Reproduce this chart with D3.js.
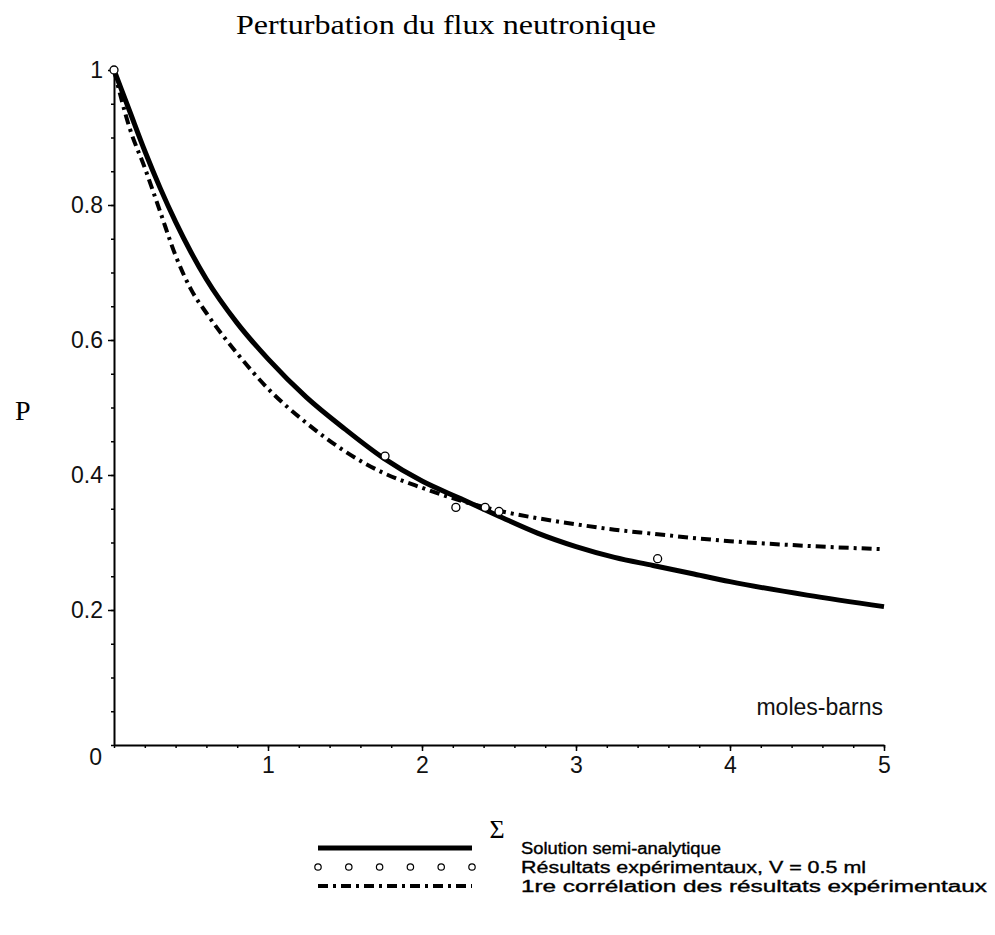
<!DOCTYPE html>
<html>
<head>
    <title>Perturbation du flux neutronique</title>
    <script src="https://d3js.org/d3.v7.min.js"></script>
    <style>
        body { margin: 0; background: #fff; }
    </style>
</head>
<body>
    <div id="container"></div>
    <script>
        const width = 995;
        const height = 935;

        // values
        const sigma = [0, 0.1, 0.2, 0.3, 0.4, 0.5, 0.6, 0.8, 1.0, 1.25, 1.5, 1.75, 2.0, 2.25, 2.5, 2.75, 3.0, 3.25, 3.5, 3.75, 4.0, 4.5, 5.0];
        const pSolution = [1.0, 0.94, 0.88, 0.825, 0.775, 0.73, 0.69, 0.625, 0.572, 0.515, 0.468, 0.425, 0.391, 0.365, 0.339, 0.314, 0.294, 0.278, 0.266, 0.254, 0.242, 0.222, 0.205];
        const pCorrelation = [1.0, 0.915, 0.855, 0.79, 0.725, 0.675, 0.64, 0.58, 0.528, 0.477, 0.435, 0.403, 0.381, 0.362, 0.347, 0.336, 0.327, 0.319, 0.313, 0.307, 0.302, 0.295, 0.29];
        const expSigma = [0, 1.76, 2.22, 2.41, 2.5, 3.53];
        const expP = [1.0, 0.428, 0.352, 0.352, 0.346, 0.276];

        const xTicks = [1, 2, 3, 4, 5];
        const yTicks = [0, 0.2, 0.4, 0.6, 0.8, 1];
        const legendLabels = ["Solution semi-analytique", "Résultats expérimentaux, V = 0.5 ml", "1re corrélation des résultats expérimentaux"];

        const x = d3.scaleLinear().domain([0, 5]).range([114, 884]);
        const y = d3.scaleLinear().domain([0, 1]).range([745, 70]);

        const svg = d3.select("#container").append("svg")
            .attr("width", width)
            .attr("height", height)
            .style("font-family", "'Liberation Sans', Arial, sans-serif");

        // title and axis names
        svg.append("text")
            .attr("x", 236).attr("y", 34)
            .attr("textLength", 420).attr("lengthAdjust", "spacingAndGlyphs")
            .style("font-family", "'Liberation Serif', serif")
            .style("font-size", "27px")
            .text("Perturbation du flux neutronique");

        svg.append("text")
            .attr("x", 15).attr("y", 420)
            .style("font-family", "'Liberation Serif', serif")
            .style("font-size", "28px")
            .text("P");

        svg.append("text")
            .attr("x", 497).attr("y", 838)
            .attr("text-anchor", "middle")
            .style("font-family", "'Liberation Serif', serif")
            .style("font-size", "26px")
            .text("Σ");

        svg.append("text")
            .attr("x", 883).attr("y", 715)
            .attr("text-anchor", "end")
            .style("font-size", "23px")
            .attr("fill", "#111")
            .text("moles-barns");

        // minor ticks
        svg.append("g")
            .attr("transform", `translate(0,${y(0)})`)
            .call(d3.axisBottom(x).tickValues(d3.range(0, 5.01, 0.2)).tickSize(3).tickFormat(""))
            .call(g => g.select(".domain").remove());
        svg.append("g")
            .attr("transform", `translate(${x(0)},0)`)
            .call(d3.axisLeft(y).tickValues(d3.range(0, 1.01, 0.05)).tickSize(3).tickFormat(""))
            .call(g => g.select(".domain").remove());

        svg.append("g")
            .attr("transform", `translate(0,${y(0)})`)
            .call(d3.axisBottom(x).tickValues(xTicks).tickSize(6).tickSizeOuter(0).tickPadding(6).tickFormat(d => d));

        const yAxis = svg.append("g")
            .attr("transform", `translate(${x(0)},0)`)
            .call(d3.axisLeft(y).tickValues(yTicks).tickSize(6).tickSizeOuter(0).tickPadding(5).tickFormat(d => d));

        yAxis.selectAll(".tick").filter(d => d === 0).select("text")
            .attr("dy", "0.85em").attr("x", -12);
        yAxis.selectAll(".tick").filter(d => d === 0).select("line").remove();

        svg.selectAll(".domain").attr("stroke-width", 2);
        svg.selectAll(".tick line").attr("stroke-width", 1.5);
        svg.selectAll(".tick text")
            .style("font-family", "'Liberation Sans', Arial, sans-serif")
            .style("font-size", "23px")
            .attr("fill", "#111");

        // curves
        const line = d3.line()
            .x((d, i) => x(sigma[i]))
            .y(d => y(d))
            .curve(d3.curveMonotoneX);

        svg.append("path")
            .datum(pCorrelation)
            .attr("fill", "none")
            .attr("stroke", "#000")
            .attr("stroke-width", 4)
            .attr("stroke-dasharray", "10,5,3,5")
            .attr("d", line);

        svg.append("path")
            .datum(pSolution)
            .attr("fill", "none")
            .attr("stroke", "#000")
            .attr("stroke-width", 5)
            .attr("d", line);

        svg.selectAll(".pt")
            .data(expP)
            .join("circle")
            .attr("class", "pt")
            .attr("cx", (d, i) => x(expSigma[i]))
            .attr("cy", d => y(d))
            .attr("r", 4)
            .attr("fill", "#fff")
            .attr("stroke", "#000")
            .attr("stroke-width", 1.3);

        // legend
        const legX0 = 318, legX1 = 472, legTextX = 521;
        const legY = [848, 867, 886];
        const legLen = [200, 345, 466];
        const legend = svg.append("g");

        legend.append("line")
            .attr("x1", legX0).attr("x2", legX1)
            .attr("y1", legY[0]).attr("y2", legY[0])
            .attr("stroke", "#000").attr("stroke-width", 5);

        legend.selectAll(".lpt")
            .data(d3.range(6))
            .join("circle")
            .attr("class", "lpt")
            .attr("cx", d => legX0 + d * (legX1 - legX0) / 5)
            .attr("cy", legY[1])
            .attr("r", 3.2)
            .attr("fill", "#fff")
            .attr("stroke", "#000")
            .attr("stroke-width", 1.2);

        legend.append("line")
            .attr("x1", legX0).attr("x2", legX1)
            .attr("y1", legY[2]).attr("y2", legY[2])
            .attr("stroke", "#000").attr("stroke-width", 4)
            .attr("stroke-dasharray", "10,5,3,5");

        legend.selectAll(".ltxt")
            .data(legendLabels)
            .join("text")
            .attr("class", "ltxt")
            .attr("x", legTextX)
            .attr("y", (d, i) => legY[i] + 6)
            .attr("textLength", (d, i) => legLen[i])
            .attr("lengthAdjust", "spacingAndGlyphs")
            .style("font-family", "'Liberation Sans Narrow', 'Liberation Sans', sans-serif")
            .style("font-size", "16px")
            .attr("stroke", "#000")
            .attr("stroke-width", 0.35)
            .text(d => d);
    </script>
</body>
</html>
